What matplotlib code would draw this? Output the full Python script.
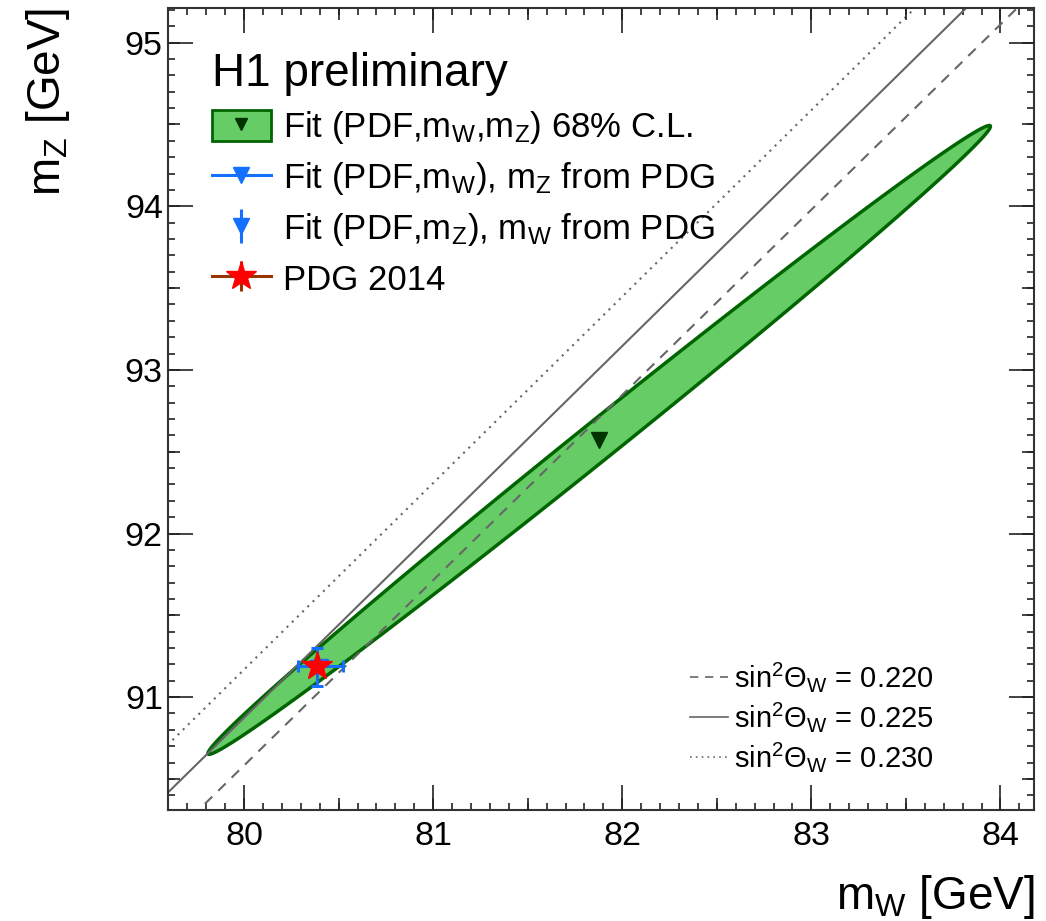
import numpy as np
import matplotlib
matplotlib.use('Agg')
import matplotlib.pyplot as plt
from matplotlib.patches import Patch
from matplotlib.lines import Line2D
from matplotlib.ticker import MultipleLocator, NullFormatter

plt.rcParams['font.family'] = ['Liberation Sans', 'DejaVu Sans']
plt.rcParams['mathtext.fontset'] = 'custom'
plt.rcParams['mathtext.rm'] = 'Liberation Sans'
plt.rcParams['mathtext.it'] = 'Liberation Sans:italic'
plt.rcParams['mathtext.bf'] = 'Liberation Sans:bold'

# 68% CL contour of the (PDF, mW, mZ) fit: centre, tip offset, half height at centre
fit_center = [81.878, 92.572]
fit_tip = [2.069, 1.916]
fit_halfwidth = 0.148

# fits with one mass taken from PDG
fit_mw = [80.405, 91.1876]
fit_mw_err = 0.12
fit_mz = [80.385, 91.185]
fit_mz_err = 0.115

# PDG 2014
pdg_mw, pdg_mw_err = 80.385, 0.015
pdg_mz, pdg_mz_err = 91.1876, 0.0021

# lines of constant weak mixing angle
sin2_values = [0.220, 0.225, 0.230]
sin2_styles = [(0, (5, 4)), '-', (0, (1, 2.5))]

xlim = (79.6, 84.18)
ylim = (90.31, 95.21)

green = '#66cc66'
dkgreen = '#006400'
blue = '#1470ff'
brown = '#993300'
grey = '#666666'
tickc = '#222222'

fig = plt.figure(figsize=(10.46, 9.21), dpi=100)
pos = [0.161, 0.1205, 0.828, 0.8705]
ax = fig.add_axes(pos)

t = np.linspace(0, 2 * np.pi, 400)
ex = fit_center[0] + fit_tip[0] * np.cos(t)
ey = fit_center[1] + fit_tip[1] * np.cos(t) + fit_halfwidth * np.sin(t)
ax.fill(ex, ey, facecolor=green, edgecolor=dkgreen, lw=2.5, zorder=1)
ax.plot(fit_center[0], fit_center[1], 'v', color='#003300', ms=11, zorder=4)

mw = np.linspace(xlim[0] - 0.5, xlim[1] + 0.5, 200)
for s, ls in zip(sin2_values, sin2_styles):
    ax.plot(mw, mw / np.sqrt(1 - s), color=grey, lw=1.5, ls=ls, zorder=2)

ax.errorbar(fit_mw[0], fit_mw[1], xerr=fit_mw_err, fmt='v', color=blue, ms=10,
            lw=2.2, capsize=4, capthick=2.2, zorder=5)
ax.errorbar(fit_mz[0], fit_mz[1], yerr=fit_mz_err, fmt='v', color=blue, ms=10,
            lw=2.2, capsize=4, capthick=2.2, zorder=5)
ax.errorbar(pdg_mw, pdg_mz, xerr=pdg_mw_err, yerr=pdg_mz_err, fmt='none',
            ecolor=brown, lw=2, zorder=6)
ax.plot(pdg_mw, pdg_mz, '*', color='red', ms=22, mec='red', zorder=7)

ax.set_xlim(*xlim)
ax.set_ylim(*ylim)
ax.xaxis.set_major_locator(MultipleLocator(1))
ax.xaxis.set_minor_locator(MultipleLocator(0.1))
ax.yaxis.set_major_locator(MultipleLocator(1))
ax.yaxis.set_minor_locator(MultipleLocator(0.1))
ax.tick_params(which='both', direction='in', top=True, right=True, width=1.2,
               color=tickc)
ax.tick_params(which='major', length=18, labelsize=24.5)
ax.tick_params(which='minor', length=5)
ax.tick_params(axis='x', pad=8)
ax.tick_params(axis='y', pad=4)
for sp in ax.spines.values():
    sp.set_linewidth(1.5)
    sp.set_color('#333333')

# medium ticks every 0.5 GeV
ax2 = fig.add_axes(pos, frameon=False, zorder=3)
ax2.set_xlim(*xlim)
ax2.set_ylim(*ylim)
ax2.xaxis.set_major_locator(MultipleLocator(0.5))
ax2.yaxis.set_major_locator(MultipleLocator(0.5))
ax2.xaxis.set_major_formatter(NullFormatter())
ax2.yaxis.set_major_formatter(NullFormatter())
ax2.tick_params(direction='in', top=True, right=True, length=8.5, width=1.2,
                color=tickc)
ax2.patch.set_visible(False)

ax.set_xlabel(r'm$_\mathrm{W}$ [GeV]', fontsize=33, loc='right', labelpad=15)
ax.set_ylabel(r'm$_\mathrm{Z}$ [GeV]', fontsize=33, loc='top', labelpad=38)

# legend proxies
h_fit = (Patch(facecolor=green, edgecolor=dkgreen, lw=2),
         Line2D([], [], marker='v', color='#003300', ls='none', ms=9))
h_fw = Line2D([], [], color=blue, lw=2.2, marker='v', ms=12)
h_fz = (Line2D([], [], marker='|', color=blue, ls='none', ms=24, mew=2.2),
        Line2D([], [], marker='v', color=blue, ls='none', ms=12))
h_pdg = (Line2D([], [], color=brown, lw=2.2),
         Line2D([], [], marker='|', color=brown, ls='none', ms=22, mew=2.2),
         Line2D([], [], marker='*', color='red', ls='none', ms=22))
leg1 = ax.legend([h_fit, h_fw, h_fz, h_pdg],
                 [r'Fit (PDF,m$_\mathrm{W}$,m$_\mathrm{Z}$) 68% C.L.',
                  r'Fit (PDF,m$_\mathrm{W}$), m$_\mathrm{Z}$ from PDG',
                  r'Fit (PDF,m$_\mathrm{Z}$), m$_\mathrm{W}$ from PDG',
                  'PDG 2014'],
                 loc='upper left', bbox_to_anchor=(0.05, 0.946), frameon=False,
                 fontsize=25, title='H1 preliminary', title_fontsize=33,
                 alignment='left', handlelength=1.7, handleheight=1.0,
                 handletextpad=0.35, labelspacing=0.4, borderpad=0,
                 borderaxespad=0)
ax.add_artist(leg1)

h_lines = [Line2D([], [], color=grey, lw=1.2, ls=ls) for ls in sin2_styles]
ax.legend(h_lines, [r'sin$^2$Θ$_\mathrm{W}$ = %.3f' % s for s in sin2_values],
          loc='lower right', bbox_to_anchor=(0.883, 0.045), frameon=False,
          fontsize=21, handlelength=1.3, handletextpad=0.2, labelspacing=0.2,
          borderpad=0, borderaxespad=0)

fig.savefig('out.png', dpi=100)
